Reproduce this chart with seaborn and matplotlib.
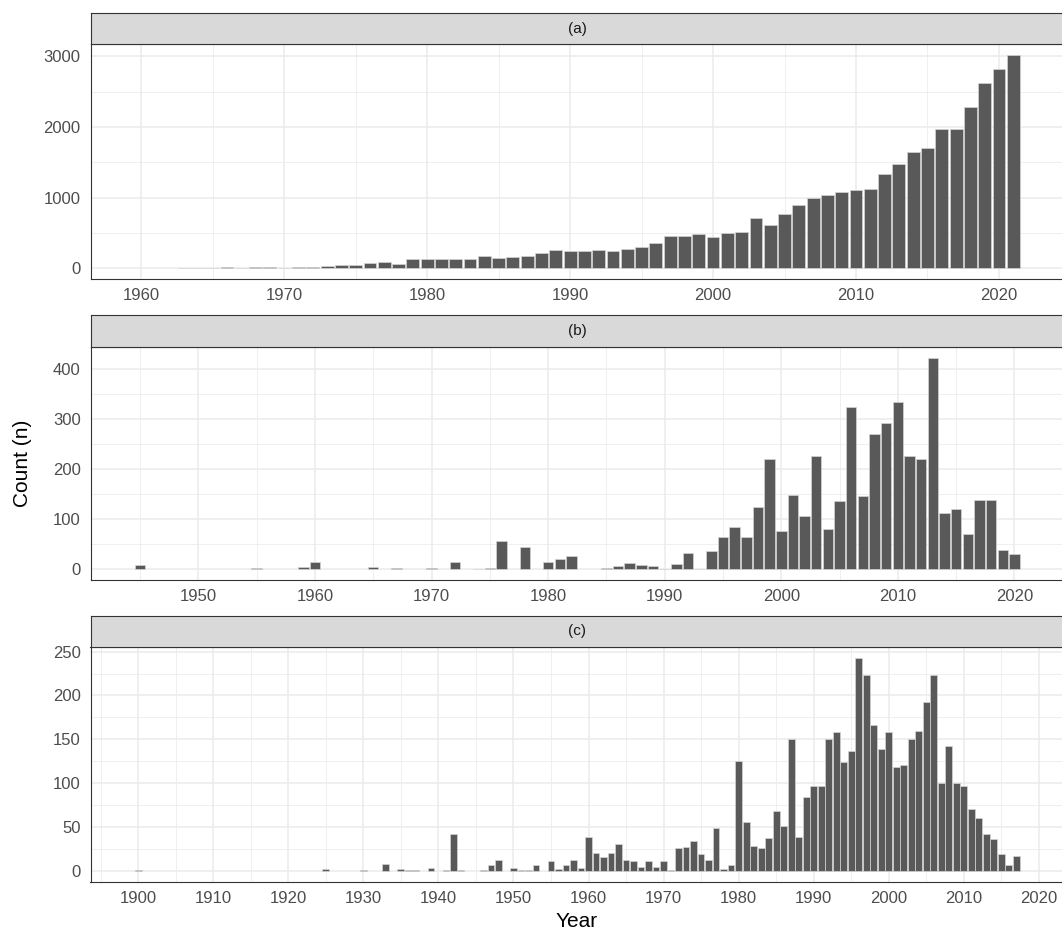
import numpy as np
import pandas as pd
import matplotlib
matplotlib.use("Agg")
import matplotlib.pyplot as plt
import seaborn as sns
from matplotlib.ticker import MultipleLocator

# ---------------- data ----------------
years_a = list(range(1963, 2022))
counts_a = [5, 5, 8, 12, 8, 18, 18, 8, 18, 20,
            33, 52, 43, 71, 86, 67, 129, 130, 130, 130,
            138, 171, 143, 162, 171, 214, 257, 248, 240, 256,
            246, 275, 303, 355, 460, 455, 479, 441, 493, 512,
            711, 607, 773, 900, 991, 1033, 1076, 1109, 1118, 1332,
            1479, 1640, 1706, 1976, 1972, 2280, 2630, 2825, 3024]

years_b = [1945, 1955, 1959, 1960, 1965, 1967, 1970, 1972, 1974, 1975,
           1976, 1978, 1980, 1981, 1982, 1985, 1986, 1987, 1988, 1989,
           1990, 1991, 1992, 1993] + list(range(1994, 2021))
counts_b = [9, 3, 5, 14, 5, 2, 3, 15, 1, 3,
            57, 45, 15, 20, 26, 3, 7, 13, 9, 6,
            1, 10, 33, 1,
            36, 65, 85, 65, 125, 220, 76, 148, 107, 226,
            81, 137, 325, 146, 270, 293, 334, 226, 220, 423,
            113, 120, 70, 138, 138, 38, 31]

years_c = [1900, 1925, 1930, 1933, 1935, 1936, 1937, 1939, 1941, 1942,
           1943, 1946, 1947, 1948, 1950, 1951, 1952, 1953] + list(range(1955, 2018))
counts_c = [1, 3, 1, 8, 3, 1, 1, 4, 1, 42,
            2, 1, 7, 13, 4, 1, 1, 7,
            12, 3, 7, 13, 4,
            39, 21, 16, 21, 31, 13, 12, 5, 12, 5,
            12, 1, 27, 28, 34, 20, 13, 49, 3, 7,
            126, 56, 29, 26, 38, 69, 52, 150, 39, 85,
            97, 97, 151, 159, 124, 137, 243, 223, 166, 139,
            159, 119, 121, 150, 160, 193, 223, 101, 143, 101,
            97, 71, 61, 42, 37, 20, 7, 17]

panel_labels = ["(a)", "(b)", "(c)"]
x_label = "Year"
y_label = "Count (n)"

# ---------------- style ----------------
sns.set_style("white")
plt.rcParams["font.family"] = ["Liberation Sans", "DejaVu Sans"]

W, H = 1062, 931
fig = plt.figure(figsize=(W / 100, H / 100), dpi=100)

BAR = "#595959"
GRID = "#EBEBEB"
BORDER = "#333333"
TICKC = "#4D4D4D"

x0 = 90.5 / W
wid = (1064 - 90.5) / W
# (plot top px, plot bottom px, strip top px)
layout = [(44, 279, 13), (347, 580, 315), (647, 882, 616)]
xlims = [(1956.45, 2024.55), (1940.75, 2024.25), (1893.65, 2023.35)]
ymaj = [1000, 100, 50]
ymin_ = [500, 50, 25]

datasets = [(years_a, counts_a), (years_b, counts_b), (years_c, counts_c)]

for i, ((yrs, cnts), (top, bot, stop)) in enumerate(zip(datasets, layout)):
    ax = fig.add_axes([x0, 1 - bot / H, wid, (bot - top) / H])
    df = pd.DataFrame({"Year": yrs, "Count": cnts})
    sns.barplot(data=df, x="Year", y="Count", native_scale=True, color=BAR,
                saturation=1, width=0.9, errorbar=None, edgecolor="#d4d4d4",
                linewidth=0.5, ax=ax)
    mx = max(cnts)
    ax.set_ylim(-0.05 * mx, 1.05 * mx)
    ax.set_xlim(*xlims[i])
    ax.xaxis.set_major_locator(MultipleLocator(10))
    ax.xaxis.set_minor_locator(MultipleLocator(5))
    ax.yaxis.set_major_locator(MultipleLocator(ymaj[i]))
    ax.yaxis.set_minor_locator(MultipleLocator(ymin_[i]))
    ax.set_axisbelow(True)
    ax.grid(which="major", color=GRID, linewidth=1.1)
    ax.grid(which="minor", color=GRID, linewidth=0.55)
    ax.tick_params(which="major", length=3.6, width=0.8, color=BORDER,
                   labelsize=12, labelcolor=TICKC, pad=3)
    ax.tick_params(which="minor", length=0)
    ax.tick_params(axis="y", pad=3.5)
    for s in ax.spines.values():
        s.set_color(BORDER)
        s.set_linewidth(0.8)
        s.set_visible(True)
    ax.set_xlabel("")
    ax.set_ylabel("")
    # strip
    sax = fig.add_axes([x0, 1 - top / H, wid, (top - stop) / H])
    sax.set_facecolor("#D9D9D9")
    sax.set_xticks([])
    sax.set_yticks([])
    for s in sax.spines.values():
        s.set_color(BORDER)
        s.set_linewidth(0.8)
        s.set_visible(True)
    sax.text(0.5, 0.5, panel_labels[i], transform=sax.transAxes, ha="center",
             va="center", fontsize=11, color="#1A1A1A")

fig.text(577 / W, 1 - 927 / H, x_label, ha="center", va="baseline",
         fontsize=15, color="black")
fig.text(23 / W, 1 - 463 / H, y_label, ha="center", va="center",
         rotation=90, fontsize=15, color="black")

fig.savefig("out.png", dpi=100)
